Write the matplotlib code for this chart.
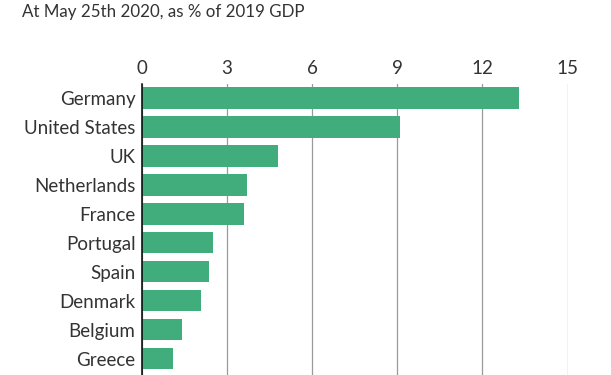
import matplotlib
matplotlib.use("Agg")
import matplotlib.pyplot as plt

countries = ["Germany", "United States", "UK", "Netherlands", "France",
             "Portugal", "Spain", "Denmark", "Belgium", "Greece"]
values = [13.3, 9.1, 4.8, 3.7, 3.6, 2.5, 2.35, 2.1, 1.4, 1.1]
xticks = [0, 3, 6, 9, 12, 15]
title = "At May 25th 2020, as % of 2019 GDP"

plt.rcParams['font.family'] = ['Lato', 'DejaVu Sans']
text_color = "#333333"
bar_color = "#41ad7d"

fig = plt.figure(figsize=(6.11, 3.75), dpi=100)
left = 141.8 / 611
width = (567.6 - 141.8) / 611
top_px = 83.5
ax = fig.add_axes([left, 0, width, (375 - top_px) / 375])

ypos = list(range(len(countries)))
ax.barh(ypos, values, height=0.735, color=bar_color, zorder=3)
ax.set_xlim(0, 15)
ax.set_ylim(9.5 + (375 - 373.2) / 28.93, -0.5)

ax.set_xticks(xticks)
ax.set_xticklabels([str(t) for t in xticks])
ax.xaxis.tick_top()
ax.tick_params(axis='x', length=0, pad=5, labelsize=13.5, colors=text_color)
ax.set_yticks(ypos)
ax.set_yticklabels(countries)
ax.tick_params(axis='y', length=0, pad=4.5, labelsize=13.5, colors=text_color)

ax.grid(axis='x', color="#9a9a9a", linewidth=0.9, zorder=0)
ax.grid(axis='y', visible=False)
for s in ["top", "right", "bottom"]:
    ax.spines[s].set_visible(False)
ax.spines["left"].set_color("black")
ax.spines["left"].set_linewidth(1.1)
ax.spines["left"].set_zorder(4)

fig.text(22 / 611, 1 - 16.7 / 375, title, fontsize=12.2, color=text_color,
         ha='left', va='baseline')

fig.savefig("out.png", dpi=100)
